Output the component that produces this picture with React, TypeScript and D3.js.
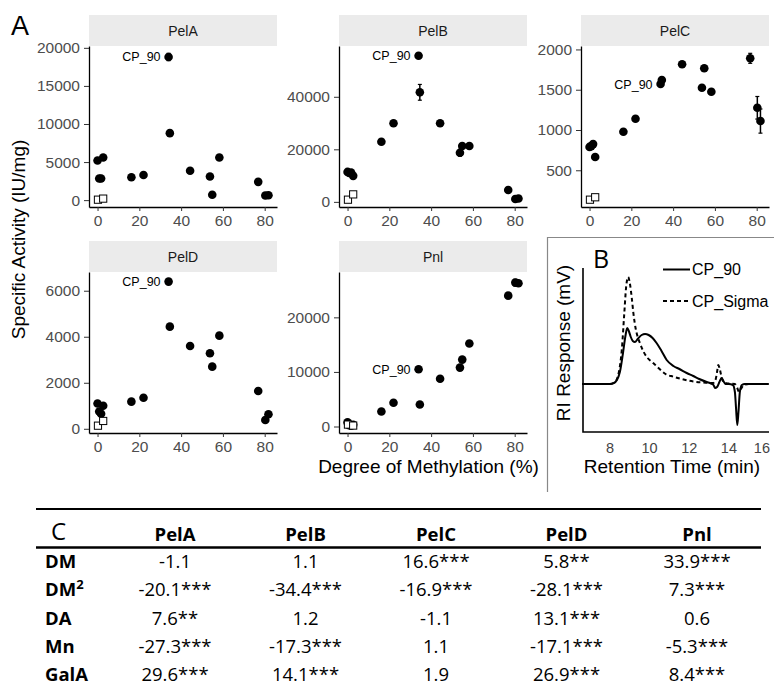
import React, { useRef, useEffect } from 'react';
import * as d3 from 'd3';

// ---- Panel A data: degree of methylation (%) of each substrate ----
const dmFilled = [0, 0.8, 1.7, 2.7, 16.2, 22, 34, 34.6, 44.3, 53.8, 54.9, 58.3, 76.9, 80.3, 81.8];
const dmOpen = [0.2, 2.7];
const cp90Index = 6;

// specific activity (IU/mg), filled = pectins, open = controls
const pelA = [5200, 2850, 2850, 5600, 3000, 3300, 18800, 8800, 3850, 3100, 700, 5600, 2400, 600, 650];
const pelAErr = [0, 0, 0, 0, 0, 0, 480, 150, 0, 0, 0, 0, 0, 0, 0];
const pelAOpen = [60, 200];

const pelB = [11400, 11000, 11200, 9900, 22900, 29900, 55650, 41700, 29900, 18700, 21250, 21250, 4500, 1070, 1300];
const pelBErr = [0, 0, 0, 0, 0, 0, 900, 3000, 0, 1300, 0, 0, 0, 0, 0];
const pelBOpen = [830, 2850];

const pelC = [790, 800, 825, 665, 978, 1139, 1571, 1621, 1816, 1525, 1766, 1475, 1890, 1276, 1111];
const pelCErr = [0, 0, 0, 0, 0, 0, 20, 20, 0, 0, 0, 0, 62, 140, 150];
const pelCOpen = [135, 165];

const pelD = [1100, 750, 650, 1000, 1180, 1352, 6396, 4439, 3600, 3283, 2700, 4048, 1643, 383, 630];
const pelDErr = [0, 0, 0, 0, 0, 0, 100, 0, 0, 0, 0, 0, 0, 0, 0];
const pelDOpen = [135, 340];

const pnl = [750, 250, 150, 300, 2740, 4340, 10480, 4030, 8760, 10790, 12260, 15210, 23980, 26370, 26260];
const pnlErr = [0, 0, 0, 0, 0, 0, 0, 0, 0, 0, 0, 0, 0, 600, 300];
const pnlOpen = [350, 170];

const dmTicks = [0, 20, 40, 60, 80];
const pelATicks = [0, 5000, 10000, 15000, 20000];
const pelBTicks = [0, 20000, 40000];
const pelCTicks = [500, 1000, 1500, 2000];
const pelDTicks = [0, 2000, 4000, 6000];
const pnlTicks = [0, 10000, 20000];

// ---- Panel B: chromatograms ----
const rtTicks = [8, 10, 12, 14, 16];
const rtCp90 = [6.6, 8.0, 8.2, 8.35, 8.5, 8.65, 8.78, 8.87, 8.95, 9.05, 9.15, 9.26, 9.4, 9.6, 9.77, 9.95, 10.15, 10.35, 10.6, 10.86, 11.2, 11.5, 11.87, 12.2, 12.5, 12.88, 13.1, 13.22, 13.3, 13.4, 13.52, 13.63, 13.72, 13.82, 14.0, 14.2, 14.3, 14.36, 14.42, 14.48, 14.55, 14.65, 14.8, 15.2, 16.0];
const riCp90 = [0, 0, 1, 4, 12, 30, 48, 56, 53, 47, 43, 42, 45, 49, 50, 49, 46, 41, 33, 24, 18, 15, 11, 8, 5, 2, 0.5, -1, -4, -3, 2, 6, 3, 0, 0, -1, -8, -25, -41, -28, -8, -1, 0, 0, 0];
const rtSigma = [6.6, 8.0, 8.25, 8.45, 8.6, 8.72, 8.82, 8.92, 9.0, 9.1, 9.18, 9.3, 9.4, 9.51, 9.7, 9.9, 10.18, 10.5, 10.8, 11.19, 11.6, 12.2, 12.88, 13.2, 13.32, 13.4, 13.46, 13.55, 13.65, 13.8, 14.0, 14.3, 14.42, 14.5, 14.6, 14.75, 15.0, 16.0];
const riSigma = [0, 0, 2, 12, 35, 70, 98, 107, 101, 86, 71, 55, 47, 41, 32, 26, 21, 15, 10, 7.3, 5, 2.5, 1.3, 1, 4, 12, 19, 14, 5, 1, 0.5, 0, -4, -7.7, -5, -1, 0, 0];

// ---- Panel C: regression table ----
const tableCols = ['PelA', 'PelB', 'PelC', 'PelD', 'Pnl'];
const tableRows = ['DM', 'DM2', 'DA', 'Mn', 'GalA'];
const rowDM = ['-1.1', '1.1', '16.6***', '5.8**', '33.9***'];
const rowDM2 = ['-20.1***', '-34.4***', '-16.9***', '-28.1***', '7.3***'];
const rowDA = ['7.6**', '1.2', '-1.1', '13.1***', '0.6'];
const rowMn = ['-27.3***', '-17.3***', '1.1', '-17.1***', '-5.3***'];
const rowGalA = ['29.6***', '14.1***', '1.9', '26.9***', '8.4***'];

const SANS = "'Liberation Sans', Arial, sans-serif";
const TBL = "'Open Sans', sans-serif";

const App = () => {
  const svgRef = useRef(null);

  useEffect(() => {
    const svg = d3.select(svgRef.current);
    svg.selectAll('*').remove();

    // ---------- A: facets ----------
    const facets = [
      { name: 'PelA', vals: pelA, errs: pelAErr, open: pelAOpen, ticks: pelATicks, left: 89, top: 46 },
      { name: 'PelB', vals: pelB, errs: pelBErr, open: pelBOpen, ticks: pelBTicks, left: 339, top: 46 },
      { name: 'PelC', vals: pelC, errs: pelCErr, open: pelCOpen, ticks: pelCTicks, left: 581, top: 46 },
      { name: 'PelD', vals: pelD, errs: pelDErr, open: pelDOpen, ticks: pelDTicks, left: 89, top: 272 },
      { name: 'Pnl', vals: pnl, errs: pnlErr, open: pnlOpen, ticks: pnlTicks, left: 339, top: 272 },
    ];
    const pw = 188, ph = 161, sh = 31;

    const allDm = dmFilled.concat(dmOpen);
    const [dmMin, dmMax] = d3.extent(allDm);
    const dmPad = (dmMax - dmMin) * 0.05;

    facets.forEach(f => {
      const g = svg.append('g');
      const lo = d3.min(f.vals.map((v, i) => v - f.errs[i]).concat(f.open));
      const hi = d3.max(f.vals.map((v, i) => v + f.errs[i]).concat(f.open));
      const pad = (hi - lo) * 0.05;

      const x = d3.scaleLinear().domain([dmMin - dmPad, dmMax + dmPad]).range([f.left, f.left + pw]);
      const y = d3.scaleLinear().domain([lo - pad, hi + pad]).range([f.top + ph, f.top]);

      // strip
      g.append('rect')
        .attr('x', f.left).attr('y', f.top - sh)
        .attr('width', pw).attr('height', sh)
        .attr('fill', '#ebebeb');
      g.append('text')
        .attr('x', f.left + pw / 2).attr('y', f.top - sh / 2 + 5)
        .attr('text-anchor', 'middle')
        .attr('font-family', SANS).attr('font-size', 14).attr('fill', '#1a1a1a')
        .text(f.name);

      // axes
      const ax = g.append('g')
        .attr('transform', `translate(0,${f.top + ph})`)
        .call(d3.axisBottom(x).tickValues(dmTicks).tickFormat(d3.format('d'))
          .tickSize(4).tickSizeOuter(0).tickPadding(4));
      const ay = g.append('g')
        .attr('transform', `translate(${f.left},0)`)
        .call(d3.axisLeft(y).tickValues(f.ticks).tickFormat(d3.format('d'))
          .tickSize(5).tickSizeOuter(0).tickPadding(4));
      [ax, ay].forEach(a => {
        a.attr('font-family', SANS).attr('font-size', 15.5);
        a.select('.domain').attr('stroke', '#000').attr('stroke-width', 1.3);
        a.selectAll('.tick line').attr('stroke', '#333').attr('stroke-width', 1);
        a.selectAll('.tick text').attr('fill', '#4d4d4d');
      });

      // error bars
      f.vals.forEach((v, i) => {
        if (!f.errs[i]) return;
        const cx = x(dmFilled[i]);
        g.append('line').attr('x1', cx).attr('x2', cx)
          .attr('y1', y(v - f.errs[i])).attr('y2', y(v + f.errs[i]))
          .attr('stroke', '#000').attr('stroke-width', 1.5);
        [v - f.errs[i], v + f.errs[i]].forEach(e => {
          g.append('line').attr('x1', cx - 2).attr('x2', cx + 2)
            .attr('y1', y(e)).attr('y2', y(e))
            .attr('stroke', '#000').attr('stroke-width', 1.2);
        });
      });

      // filled points
      g.selectAll('circle.pt').data(f.vals).enter().append('circle')
        .attr('cx', (d, i) => x(dmFilled[i]))
        .attr('cy', d => y(d))
        .attr('r', 4.3)
        .attr('fill', '#000');

      // open squares (controls)
      g.selectAll('rect.sq').data(f.open).enter().append('rect')
        .attr('x', (d, i) => x(dmOpen[i]) - 3.6)
        .attr('y', d => y(d) - 3.6)
        .attr('width', 7.2).attr('height', 7.2)
        .attr('fill', '#fff').attr('stroke', '#000').attr('stroke-width', 1);

      // CP_90 label
      g.append('text')
        .attr('x', x(dmFilled[cp90Index]) - 8)
        .attr('y', y(f.vals[cp90Index]) + 4.5)
        .attr('text-anchor', 'end')
        .attr('font-family', SANS).attr('font-size', 12.5).attr('fill', '#000')
        .text('CP_90');
    });

    svg.append('text')
      .attr('x', 11).attr('y', 35)
      .attr('font-family', SANS).attr('font-size', 27)
      .text('A');

    svg.append('text')
      .attr('transform', 'translate(25,239.5) rotate(-90)')
      .attr('text-anchor', 'middle')
      .attr('font-family', SANS).attr('font-size', 19)
      .text('Specific Activity (IU/mg)');

    svg.append('text')
      .attr('x', 428.5).attr('y', 473)
      .attr('text-anchor', 'middle')
      .attr('font-family', SANS).attr('font-size', 19)
      .text('Degree of Methylation (%)');

    // ---------- B: chromatogram ----------
    const gb = svg.append('g');
    gb.append('path')
      .attr('d', 'M774,237.5 H547.5 V492')
      .attr('fill', 'none').attr('stroke', '#888').attr('stroke-width', 1.2);

    const xb = d3.scaleLinear().domain([6.64, 16.02]).range([583, 769]);
    const yb = d3.scaleLinear().domain([-48, 116]).range([432, 268]);

    const line = d3.line().curve(d3.curveMonotoneX);
    gb.append('path')
      .attr('d', line(rtSigma.map((t, i) => [xb(t), yb(riSigma[i])])))
      .attr('fill', 'none').attr('stroke', '#000').attr('stroke-width', 2)
      .attr('stroke-dasharray', '4,3');
    gb.append('path')
      .attr('d', line(rtCp90.map((t, i) => [xb(t), yb(riCp90[i])])))
      .attr('fill', 'none').attr('stroke', '#000').attr('stroke-width', 2);

    gb.append('path')
      .attr('d', `M${xb.range()[0]},${yb.range()[1]} V${yb.range()[0]} H${xb.range()[1]}`)
      .attr('fill', 'none').attr('stroke', '#000').attr('stroke-width', 1.6);

    rtTicks.forEach((t, i) => {
      gb.append('text')
        .attr('x', i === rtTicks.length - 1 ? xb.range()[1] + 1 : xb(t))
        .attr('y', 453)
        .attr('text-anchor', i === rtTicks.length - 1 ? 'end' : 'middle')
        .attr('font-family', SANS).attr('font-size', 14.5).attr('fill', '#444')
        .text(t);
    });

    gb.append('text')
      .attr('x', 593).attr('y', 268)
      .attr('font-family', TBL).attr('font-size', 25)
      .text('B');

    const legend = [{ name: 'CP_90', dash: null, y: 269.5 }, { name: 'CP_Sigma', dash: '4,3', y: 301 }];
    legend.forEach(l => {
      gb.append('line').attr('x1', 663).attr('x2', 690).attr('y1', l.y).attr('y2', l.y)
        .attr('stroke', '#000').attr('stroke-width', 2)
        .attr('stroke-dasharray', l.dash);
      gb.append('text').attr('x', 692).attr('y', l.y + 5.5)
        .attr('font-family', SANS).attr('font-size', 16)
        .text(l.name);
    });

    gb.append('text')
      .attr('transform', 'translate(570,343) rotate(-90)')
      .attr('text-anchor', 'middle')
      .attr('font-family', SANS).attr('font-size', 19)
      .text('RI Response (mV)');
    gb.append('text')
      .attr('x', 672).attr('y', 473)
      .attr('text-anchor', 'middle')
      .attr('font-family', SANS).attr('font-size', 19)
      .text('Retention Time (min)');

    // ---------- C: table ----------
    const gt = svg.append('g').attr('font-family', TBL);
    const colX = d3.scalePoint().domain(tableCols).range([175, 697]);
    const rowY = d3.scalePoint().domain(tableRows).range([568, 681]);
    const rowVals = { DM: rowDM, DM2: rowDM2, DA: rowDA, Mn: rowMn, GalA: rowGalA };

    gt.append('line').attr('x1', 36).attr('x2', 761).attr('y1', 509).attr('y2', 509)
      .attr('stroke', '#000').attr('stroke-width', 2);
    gt.append('line').attr('x1', 36).attr('x2', 761).attr('y1', 547.5).attr('y2', 547.5)
      .attr('stroke', '#000').attr('stroke-width', 2.5);

    gt.append('text').attr('x', 51).attr('y', 540).attr('font-size', 24).text('C');
    tableCols.forEach(c => {
      gt.append('text').attr('x', colX(c)).attr('y', 541)
        .attr('text-anchor', 'middle').attr('font-size', 18.5).attr('font-weight', 'bold')
        .text(c);
    });
    tableRows.forEach(r => {
      const t = gt.append('text').attr('x', 45).attr('y', rowY(r))
        .attr('font-size', 18.5).attr('font-weight', 'bold');
      if (r === 'DM2') {
        t.append('tspan').text('DM');
        t.append('tspan').attr('dy', -7).attr('font-size', 13).text('2');
      } else {
        t.text(r);
      }
      rowVals[r].forEach((v, i) => {
        gt.append('text').attr('x', colX(tableCols[i])).attr('y', rowY(r))
          .attr('text-anchor', 'middle').attr('font-size', 18.5).attr('fill', '#000')
          .text(v);
      });
    });
  }, []);

  return (
    <div style={{ position: 'absolute', left: 0, top: 0, background: '#fff' }}>
      <svg ref={svgRef} width={774} height={685}></svg>
    </div>
  );
};

export default App;
